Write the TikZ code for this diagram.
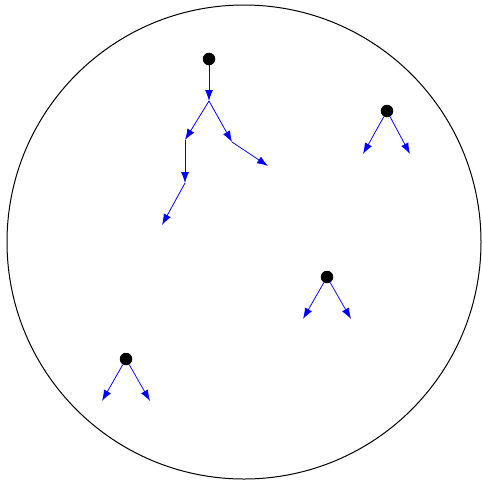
\documentclass[tikz,border=0pt]{standalone}
\usepackage{tikz}
\usetikzlibrary{arrows.meta}

\begin{document}
\begin{tikzpicture}[
  x=1pt, y=-1pt,
  dot/.style={circle, fill=black, inner sep=0pt, minimum size=12.5pt},
  arr/.style={-{Latex[length=11pt, width=8pt]}, draw=blue, line width=0.8pt}
]
\useasboundingbox (0,0) rectangle (482,480);

\node[circle, draw=black, line width=1pt, minimum size=474pt, inner sep=0pt] (disk) at (244,242) {};

% roots
\node[dot] (r1) at (209,59)  {};
\node[dot] (r2) at (387,111) {};
\node[dot] (r3) at (327,277) {};
\node[dot] (r4) at (126,359) {};

% branch points and leaves
\coordinate (a)  at (209,101);
\coordinate (b)  at (185,140);
\coordinate (c)  at (185,183);
\coordinate (d)  at (162,225);
\coordinate (e)  at (232,142);
\coordinate (f)  at (268,166);
\coordinate (g1) at (363,154);
\coordinate (g2) at (410,154);
\coordinate (h1) at (303,319);
\coordinate (h2) at (351,319);
\coordinate (k1) at (102,401);
\coordinate (k2) at (150,401);

\foreach \a/\b in {r1/a, a/b, b/c, c/d, a/e, e/f,
                   r2/g1, r2/g2, r3/h1, r3/h2, r4/k1, r4/k2}
  \draw[arr] (\a) -- (\b);

\end{tikzpicture}
\end{document}
